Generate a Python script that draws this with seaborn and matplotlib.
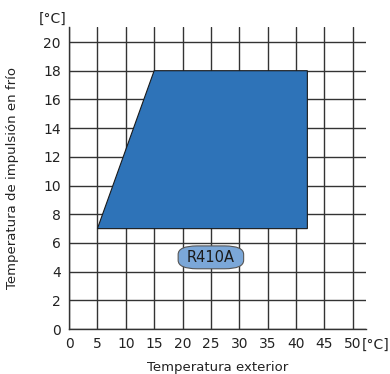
import matplotlib
matplotlib.use("Agg")
import matplotlib.pyplot as plt
import seaborn as sns
import pandas as pd

# operating envelope (outdoor temp, supply temp)
outdoor_temp = [5, 15, 42, 42]
supply_temp = [7, 18, 18, 7]
x_ticks = list(range(0, 55, 5))
y_ticks = list(range(0, 22, 2))
refrigerant = "R410A"
label_pos = (25, 5)

sns.set_style("white")
plt.rcParams["font.family"] = ["DejaVu Sans"]

fig, ax = plt.subplots(figsize=(3.9, 3.74), dpi=100)
fig.subplots_adjust(left=0.177, right=0.938, bottom=0.12, top=0.928)

env = pd.DataFrame({"outdoor": outdoor_temp, "supply": supply_temp})
ax.fill(env["outdoor"], env["supply"], facecolor="#2e73b8",
        edgecolor="#1a1a1a", lw=0.8, zorder=3)

ax.set_xlim(0, 52.3)
ax.set_ylim(0, 21.05)
ax.set_xticks(x_ticks)
ax.set_yticks(y_ticks)
ax.grid(True, color="#333333", lw=1.0, zorder=1)
ax.set_axisbelow(True)
for s in ["top", "right"]:
    ax.spines[s].set_visible(False)
for s in ["left", "bottom"]:
    ax.spines[s].set_color("#333333")
    ax.spines[s].set_linewidth(1.0)
ax.tick_params(axis="both", length=2, color="#333333", labelsize=10,
               labelcolor="#222222", pad=4)
ax.set_xlabel("Temperatura exterior", fontsize=9.5, color="#222222", labelpad=7)
ax.set_ylabel("Temperatura de impulsión en frío", fontsize=9.5, color="#222222",
              labelpad=17)

ax.text(-0.01, 1.005, "[°C]", transform=ax.transAxes, ha="right", va="bottom",
        fontsize=10, color="#222222")
ax.annotate("[°C]", xy=(51.6, 0), xycoords=("data", "axes fraction"),
            xytext=(0, -6), textcoords="offset points", ha="left", va="top",
            fontsize=10, color="#222222", annotation_clip=False)

# pill-shaped refrigerant tag
ax.text(label_pos[0], label_pos[1], refrigerant, ha="center", va="center",
        fontsize=10.5, color="#1a1a1a", zorder=5,
        bbox=dict(boxstyle="round,pad=0.6,rounding_size=1.3", fc="#7ba7d8",
                  ec="#555555", lw=0.8, mutation_aspect=0.45))

fig.savefig("out.png", dpi=100)
